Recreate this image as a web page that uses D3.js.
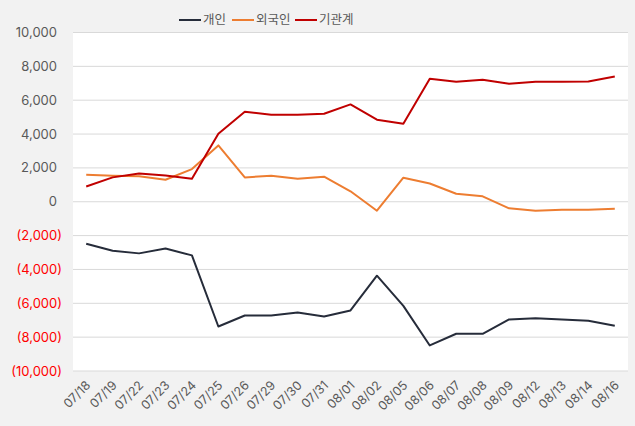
<!DOCTYPE html>
<html><head><meta charset="utf-8">
<script src="https://cdn.jsdelivr.net/npm/d3@7"></script>
<style>
body{margin:0;background:#f2f2f2;}
svg{display:block;font-family:Inter,"Noto Sans CJK KR",sans-serif;}
</style></head>
<body><svg id="c" width="635" height="426"></svg>
<script>
const categories = ["07/18","07/19","07/22","07/23","07/24","07/25","07/26","07/29","07/30","07/31","08/01","08/02","08/05","08/06","08/07","08/08","08/09","08/12","08/13","08/14","08/16"];
const individual = [-2480,-2900,-3050,-2760,-3170,-7370,-6720,-6720,-6540,-6780,-6420,-4370,-6150,-8490,-7800,-7800,-6950,-6890,-6950,-7030,-7330];
const foreign = [1600,1540,1500,1300,1930,3330,1440,1540,1360,1480,620,-530,1420,1080,470,320,-390,-530,-470,-470,-410];
const institution = [900,1440,1670,1550,1360,4020,5320,5140,5140,5200,5750,4850,4610,7270,7090,7210,6970,7090,7090,7110,7400];
const seriesNames = ["개인","외국인","기관계"];
const seriesColors = ["#262c3a","#ed7d31","#c00000"];
const yTicks = [10000,8000,6000,4000,2000,0,-2000,-4000,-6000,-8000,-10000];

const svg = d3.select("#c");
const L=73,R=628,T=32.5,B=371;
const x = d3.scalePoint().domain(categories).range([L,R]).padding(0.5);
const y = d3.scaleLinear().domain([-10000,10000]).range([B,T]);

svg.append("rect").attr("x",L).attr("y",T).attr("width",R-L).attr("height",B-T).attr("fill","#ffffff");

svg.append("g").selectAll("line").data(yTicks).join("line")
  .attr("x1",L).attr("x2",R).attr("y1",d=>y(d)).attr("y2",d=>y(d))
  .attr("stroke","#d9d9d9").attr("stroke-width",1);

const fmt = d3.format(",");
svg.append("g").selectAll("text").data(yTicks).join("text")
  .attr("x",d=>d<0?62:57).attr("y",d=>y(d)).attr("dy","0.35em")
  .attr("text-anchor","end").attr("font-size",13)
  .attr("fill",d=>d<0?"#ff0000":"#595959")
  .text(d=>d<0?"("+fmt(-d)+")":fmt(d));

svg.append("g").selectAll("text").data(categories).join("text")
  .attr("transform",d=>`translate(${x(d)+2},${B+12}) rotate(-45)`)
  .attr("text-anchor","end").attr("dy","0.35em").attr("font-size",12.5)
  .attr("fill","#595959").text(d=>d);

const data = [individual,foreign,institution];
const line = d3.line().x((d,i)=>x(categories[i])).y(d=>y(d));
svg.append("g").selectAll("path").data(data).join("path")
  .attr("d",line).attr("fill","none")
  .attr("stroke",(d,i)=>seriesColors[i]).attr("stroke-width",2)
  .attr("stroke-linejoin","round");

const legX=[179,232,295];
const lg = svg.append("g").selectAll("g").data(seriesNames).join("g")
  .attr("transform",(d,i)=>`translate(${legX[i]},20)`);
lg.append("line").attr("x1",0).attr("x2",22).attr("stroke",(d,i)=>seriesColors[i]).attr("stroke-width",2);
lg.append("text").attr("x",24).attr("dy","0.35em").attr("font-size",12.5).attr("fill","#595959").text(d=>d);
</script></body></html>
